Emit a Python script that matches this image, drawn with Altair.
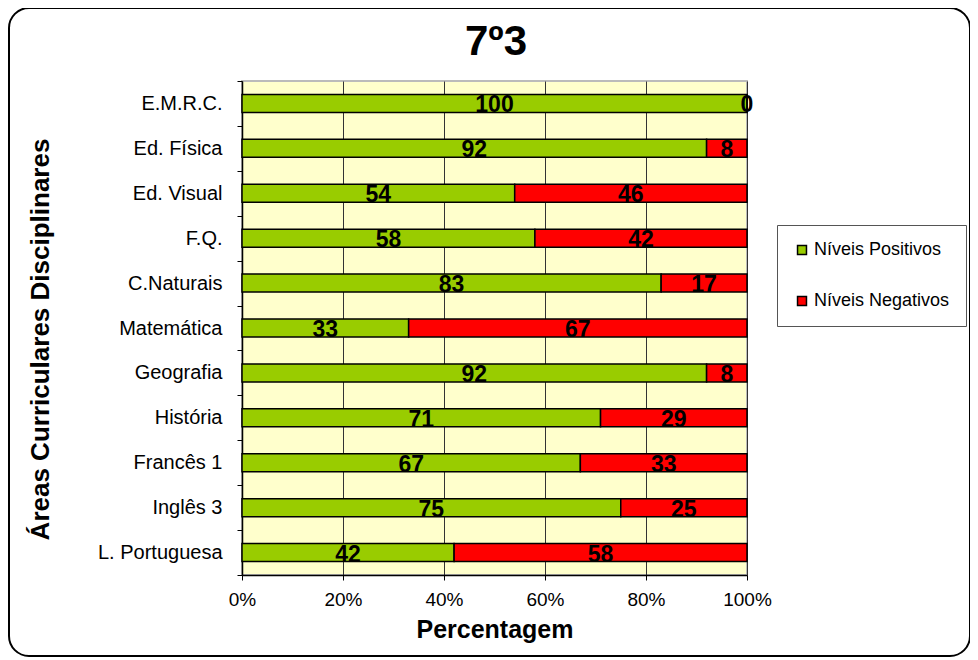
import altair as alt
import pandas as pd

areas = ["E.M.R.C.", "Ed. Física", "Ed. Visual", "F.Q.", "C.Naturais", "Matemática",
         "Geografia", "História", "Francês 1", "Inglês 3", "L. Portuguesa"]
positivos = [100, 92, 54, 58, 83, 33, 92, 71, 67, 75, 42]
negativos = [0, 8, 46, 42, 17, 67, 8, 29, 33, 25, 58]
series = ["Níveis Positivos", "Níveis Negativos"]
colors = ["#99CC00", "#FF0000"]
title_text = "7º3"

rows = []
for a, p, n in zip(areas, positivos, negativos):
    rows.append({"area": a, "serie": series[0], "ord": 0, "value": p})
    rows.append({"area": a, "serie": series[1], "ord": 1, "value": n})
df = pd.DataFrame(rows)

FONT = "Liberation Sans"

base = alt.Chart(df).transform_stack(
    stack="value", as_=["v0", "v1"], groupby=["area"],
    sort=[alt.SortField("ord")], offset="normalize"
).transform_calculate(mid="(datum.v0 + datum.v1) / 2")

yenc = alt.Y("area:N", sort=areas,
             scale=alt.Scale(paddingInner=0, paddingOuter=0),
             axis=alt.Axis(title="Áreas Curriculares  Disciplinares", tickBand="extent",
                           labelFontSize=20, labelFont=FONT, labelColor="#000000",
                           labelPadding=15, tickSize=5, tickColor="#000000",
                           domainColor="#000000", domainWidth=1.5,
                           titleFont=FONT, titleFontSize=26, titleFontWeight="bold",
                           titleColor="#000000", titleX=-202, titleY=258,
                           titleBaseline="middle", grid=False))

bars = base.mark_bar(size=18, stroke="#000000", strokeWidth=1.5).encode(
    x=alt.X("v0:Q", scale=alt.Scale(domain=[0, 1], nice=False),
            axis=alt.Axis(title="Percentagem", format="%", values=[0, 0.2, 0.4, 0.6, 0.8, 1.0],
                          labelFontSize=19, labelFont=FONT, labelColor="#000000",
                          labelFlush=False,
                          tickSize=5, tickColor="#000000", labelPadding=10,
                          domainColor="#000000", domainWidth=1.5,
                          grid=True, gridColor="#333333", gridWidth=1,
                          titleFont=FONT, titleFontSize=25, titleFontWeight="bold",
                          titleColor="#000000", titlePadding=8)),
    x2="v1:Q",
    y=yenc,
    color=alt.Color("serie:N", scale=alt.Scale(domain=series, range=colors),
                    legend=alt.Legend(title=None, orient="none", legendX=535, legendY=144,
                                      fillColor="#FFFFFF", strokeColor="#555555",
                                      padding=16, rowPadding=33, symbolType="square",
                                      symbolSize=80, symbolStrokeColor="#000000",
                                      symbolStrokeWidth=1.5, labelFontSize=18,
                                      labelFont=FONT, labelColor="#000000",
                                      labelOffset=3)),
    order=alt.Order("ord:Q"),
)

labels = base.mark_text(font=FONT, fontSize=23, fontWeight="bold", color="#000000",
                        baseline="middle", dy=2).encode(
    x=alt.X("mid:Q"),
    y=alt.Y("area:N", sort=areas),
    text=alt.Text("value:Q"),
)

deco = alt.Chart(alt.Data(values=[{"a": 1}]))

frame = deco.mark_rect(
    fillOpacity=0, stroke="#000000", strokeWidth=2, cornerRadius=20
).encode(x=alt.value(-233), x2=alt.value(728), y=alt.value(-73), y2=alt.value(575))

title = deco.mark_text(font=FONT, fontSize=42, fontWeight="bold", color="#000000",
                       align="center", baseline="alphabetic").encode(
    text=alt.value(title_text), x=alt.value(254), y=alt.value(-26))

chart = alt.layer(bars, labels, frame, title).properties(
    width=505, height=494,
    autosize=alt.AutoSizeParams(type="none"),
    padding={"left": 234, "top": 73, "right": 223, "bottom": 83},
    background="#FFFFFF",
).configure_view(fill="#FFFFCC", stroke="#BBBBBB", strokeWidth=2)

chart.save("out.html", embed_options={"renderer": "svg", "actions": False})
